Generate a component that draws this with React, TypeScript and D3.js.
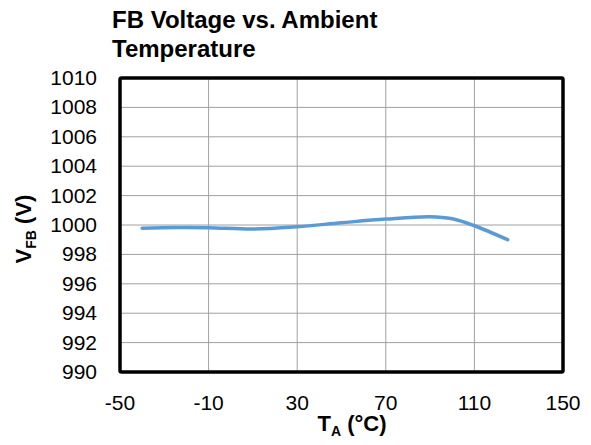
import { useEffect, useRef } from 'react';
import * as d3 from 'd3';

const temps = [-40, -25, -10, 10, 30, 50, 70, 90, 100, 110, 125];
const vfb = [999.78, 999.83, 999.82, 999.72, 999.88, 1000.15, 1000.4, 1000.56, 1000.42, 999.95, 999.0];
const xTicks = [-50, -10, 30, 70, 110, 150];
const yTicks = [990, 992, 994, 996, 998, 1000, 1002, 1004, 1006, 1008, 1010];

const FONT = '"Liberation Sans", Arial, sans-serif';

const App = () => {
  const svgRef = useRef<SVGSVGElement>(null);

  useEffect(() => {
    const svg = d3.select(svgRef.current);
    svg.selectAll('*').remove();

    const left = 120, right = 563, top = 78, bottom = 372;

    const x = d3.scaleLinear().domain([-50, 150]).range([left, right]);
    const y = d3.scaleLinear().domain([990, 1010]).range([bottom, top]);

    // grid
    const grid = svg.append('g');
    xTicks.forEach(t => {
      grid.append('line')
        .attr('x1', x(t)).attr('x2', x(t))
        .attr('y1', top).attr('y2', bottom)
        .attr('stroke', '#a0a0a0').attr('stroke-width', 1);
    });
    yTicks.forEach(t => {
      grid.append('line')
        .attr('x1', left).attr('x2', right)
        .attr('y1', y(t)).attr('y2', y(t))
        .attr('stroke', '#a0a0a0').attr('stroke-width', 1);
    });

    // data line
    const line = d3.line<number>()
      .x((_, i) => x(temps[i]))
      .y(d => y(d))
      .curve(d3.curveCatmullRom.alpha(0.5));

    svg.append('path')
      .datum(vfb)
      .attr('fill', 'none')
      .attr('stroke', '#5b9bd5')
      .attr('stroke-width', 3.5)
      .attr('stroke-linecap', 'round')
      .attr('d', line);

    // frame
    svg.append('rect')
      .attr('x', left).attr('y', top)
      .attr('width', right - left).attr('height', bottom - top)
      .attr('fill', 'none')
      .attr('stroke', '#000')
      .attr('stroke-width', 3.5)
      .attr('rx', 1.5);

    // tick labels
    svg.append('g').selectAll('text')
      .data(yTicks)
      .enter()
      .append('text')
      .attr('x', 97)
      .attr('y', d => y(d) + 7)
      .attr('text-anchor', 'end')
      .attr('font-family', FONT)
      .attr('font-size', 21)
      .text(d => d);

    svg.append('g').selectAll('text')
      .data(xTicks)
      .enter()
      .append('text')
      .attr('x', d => x(d))
      .attr('y', 410)
      .attr('text-anchor', 'middle')
      .attr('font-family', FONT)
      .attr('font-size', 21)
      .text(d => d);

    // title
    const title = svg.append('text')
      .attr('font-family', FONT)
      .attr('font-size', 24)
      .attr('font-weight', 'bold');
    title.append('tspan').attr('x', 112).attr('y', 28).text('FB Voltage vs. Ambient');
    title.append('tspan').attr('x', 112).attr('y', 57).text('Temperature');

    // x axis title
    const xt = svg.append('text')
      .attr('x', 352)
      .attr('y', 431)
      .attr('text-anchor', 'middle')
      .attr('font-family', FONT)
      .attr('font-size', 22)
      .attr('font-weight', 'bold');
    xt.append('tspan').text('T');
    xt.append('tspan').attr('font-size', 14).attr('dy', 5).text('A');
    xt.append('tspan').attr('dy', -5).text(' (°C)');

    // y axis title
    const yt = svg.append('text')
      .attr('transform', 'translate(31,229) rotate(-90)')
      .attr('text-anchor', 'middle')
      .attr('font-family', FONT)
      .attr('font-size', 22)
      .attr('font-weight', 'bold');
    yt.append('tspan').text('V');
    yt.append('tspan').attr('font-size', 14).attr('dy', 5).text('FB');
    yt.append('tspan').attr('dy', -5).text(' (V)');
  }, []);

  return (
    <svg
      ref={svgRef}
      width={591}
      height={445}
      style={{ position: 'absolute', left: 0, top: 0, background: '#fff' }}
    />
  );
};

export default App;
